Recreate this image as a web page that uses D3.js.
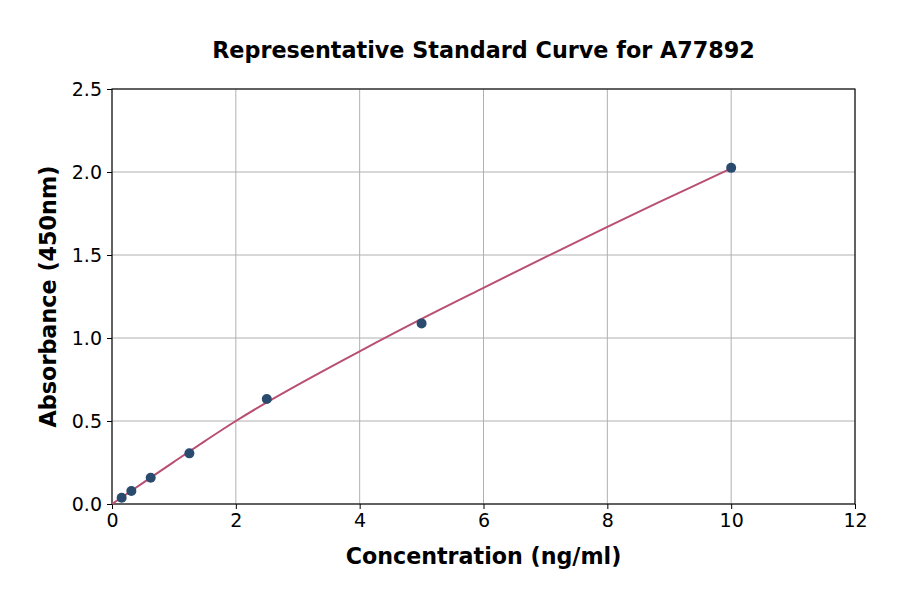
<!DOCTYPE html>
<html><head><meta charset="utf-8">
<script src="https://cdn.jsdelivr.net/npm/d3@7"></script>
<style>body{margin:0;background:#fff;} svg{display:block;font-family:"DejaVu Sans",sans-serif;}</style>
</head><body><svg id="c" width="900" height="594"></svg>
<script>
const pointX = [0.156, 0.3125, 0.625, 1.25, 2.5, 5, 10];
const pointY = [0.038, 0.078, 0.158, 0.305, 0.632, 1.088, 2.025];
const curveX = [0, 0.5, 1, 1.5, 2, 2.5, 3, 4, 5, 6, 7, 8, 9, 10];
const curveY = [0.0, 0.127, 0.254, 0.379, 0.500, 0.612, 0.718, 0.920, 1.115, 1.302, 1.487, 1.670, 1.847, 2.022];
const xTicks = [0, 2, 4, 6, 8, 10, 12];
const yTicks = [0.0, 0.5, 1.0, 1.5, 2.0, 2.5];
const title = "Representative Standard Curve for A77892";
const xLabel = "Concentration (ng/ml)";
const yLabel = "Absorbance (450nm)";

const W = 900, H = 594, m = {l:112, r:45, t:89, b:90};
const svg = d3.select("#c");
const x = d3.scaleLinear().domain([0,12]).range([m.l, W-m.r]);
const y = d3.scaleLinear().domain([0,2.5]).range([H-m.b, m.t]);

// grid
svg.append("g").selectAll("line").data(xTicks).join("line")
  .attr("x1", d=>x(d)).attr("x2", d=>x(d)).attr("y1", y(0)).attr("y2", y(2.5))
  .attr("stroke", "#b0b0b0").attr("stroke-width", 1);
svg.append("g").selectAll("line").data(yTicks).join("line")
  .attr("y1", d=>y(d)).attr("y2", d=>y(d)).attr("x1", x(0)).attr("x2", x(12))
  .attr("stroke", "#b0b0b0").attr("stroke-width", 1);

// axes
const xa = svg.append("g").attr("transform", `translate(0,${y(0)})`)
  .call(d3.axisBottom(x).tickValues(xTicks).tickFormat(d3.format("d")).tickSize(5).tickPadding(5));
const ya = svg.append("g").attr("transform", `translate(${x(0)},0)`)
  .call(d3.axisLeft(y).tickValues(yTicks).tickFormat(d3.format(".1f")).tickSize(5).tickPadding(5));
[xa, ya].forEach(g => {
  g.select(".domain").remove();
  g.selectAll("text").attr("font-size", 19).attr("fill", "#000").attr("font-family", "DejaVu Sans");
  g.selectAll(".tick line").attr("stroke", "#000").attr("stroke-width", 1);
});
// frame
svg.append("rect").attr("x", x(0)).attr("y", y(2.5)).attr("width", x(12)-x(0)).attr("height", y(0)-y(2.5))
  .attr("fill", "none").attr("stroke", "#000").attr("stroke-width", 1.1);

// curve
const curveData = curveX.map((d,i)=>[d, curveY[i]]);
svg.append("path").datum(curveData)
  .attr("d", d3.line().x(d=>x(d[0])).y(d=>y(d[1])).curve(d3.curveCatmullRom))
  .attr("fill", "none").attr("stroke", "#b94f72").attr("stroke-width", 2);

// points
svg.append("g").selectAll("circle").data(pointX.map((d,i)=>[d, pointY[i]])).join("circle")
  .attr("cx", d=>x(d[0])).attr("cy", d=>y(d[1])).attr("r", 5).attr("fill", "#2a4b6e");

// texts
svg.append("text").attr("x", (x(0)+x(12))/2).attr("y", 58).attr("text-anchor", "middle")
  .attr("font-size", 22.3).attr("font-weight", "bold").text(title);
svg.append("text").attr("x", (x(0)+x(12))/2).attr("y", 564).attr("text-anchor", "middle")
  .attr("font-size", 22.2).attr("font-weight", "bold").text(xLabel);
svg.append("text").attr("transform", `translate(56,${(y(0)+y(2.5))/2}) rotate(-90)`).attr("text-anchor", "middle")
  .attr("font-size", 22.3).attr("font-weight", "bold").text(yLabel);
</script></body></html>
